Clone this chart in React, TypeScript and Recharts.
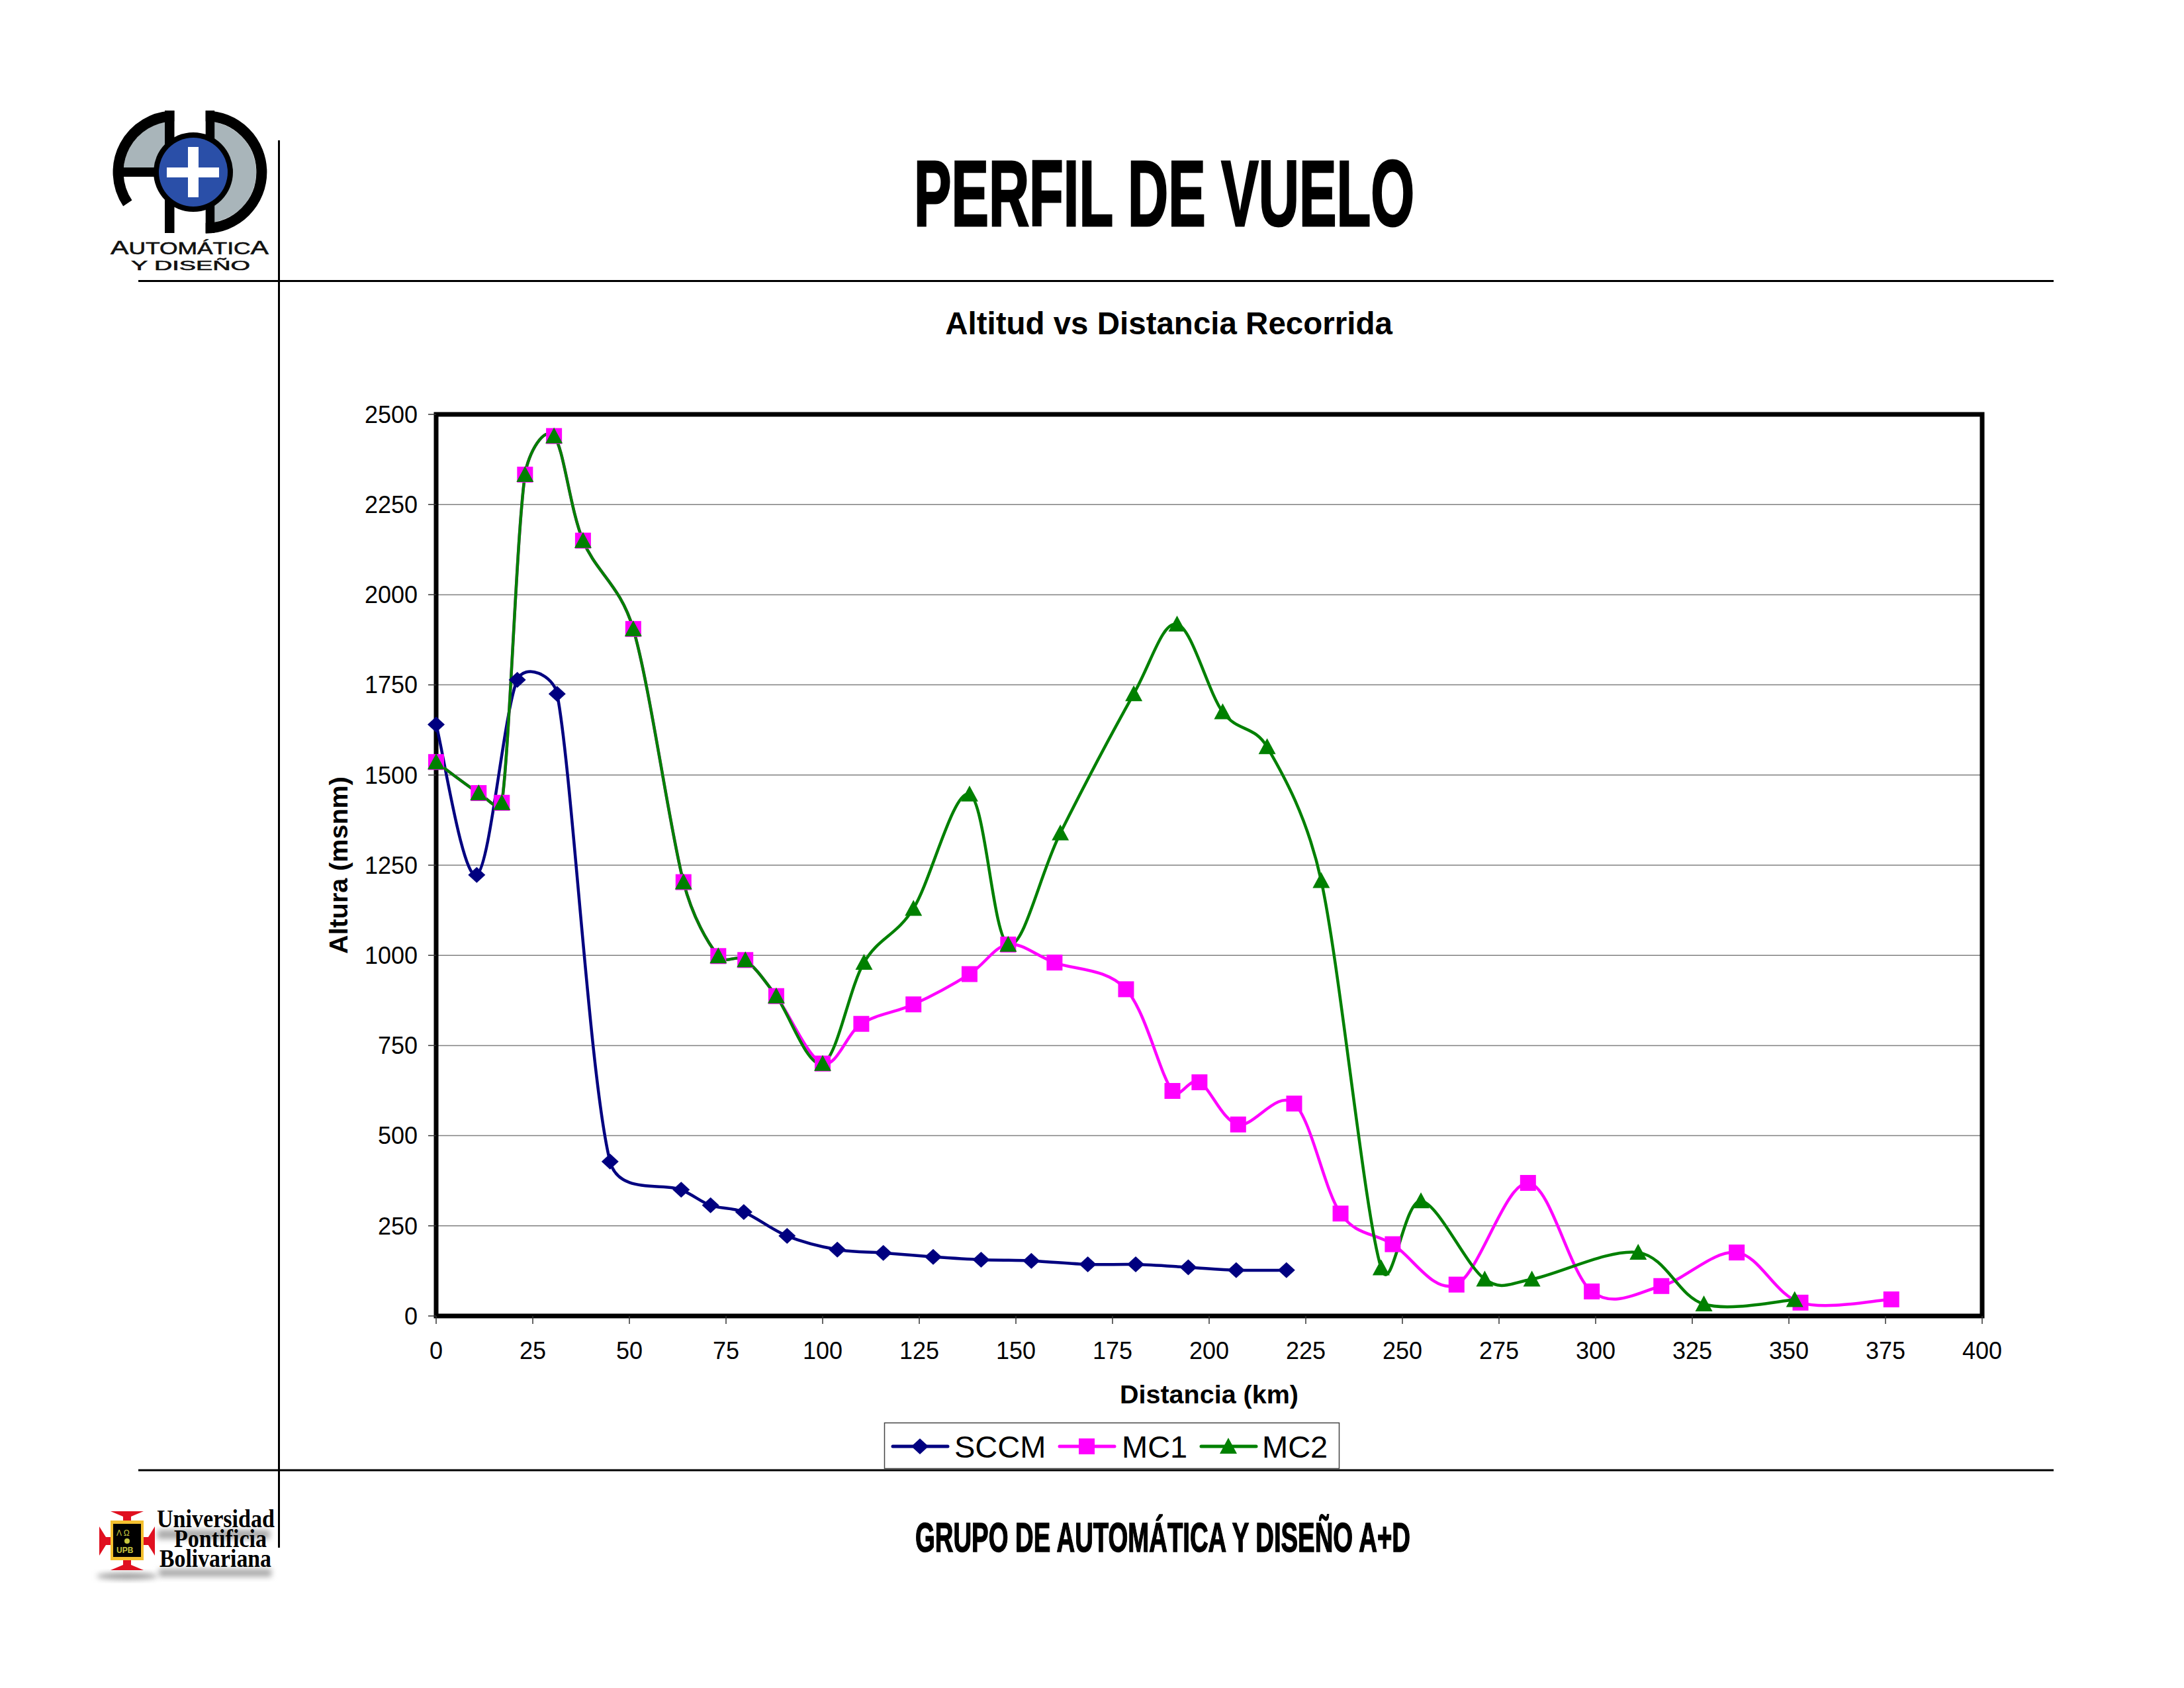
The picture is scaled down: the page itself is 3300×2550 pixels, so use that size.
import { CartesianGrid, Label, Legend, Line, LineChart, ReferenceArea, XAxis, YAxis } from "recharts";

const sccmDist = [0, 10.5, 21, 31.3, 45, 63.4, 71, 79.6, 90.8, 103.8, 115.7, 128.6, 141, 154, 168.6, 181, 194.6, 207, 220];
const sccmAlt = [1640, 1223, 1764, 1725, 428, 350, 307, 288, 222, 184, 175, 164, 156, 153, 143, 143, 135, 127, 127];

const mc1Dist = [0, 11, 17, 23, 30.5, 38, 51, 64, 73, 80, 88, 100, 110, 123.5, 138, 148, 160, 178.5, 190.5, 197.5, 207.5, 222, 234, 247.5, 264, 282.5, 299, 317, 336.5, 353, 376.5];
const mc1Alt = [1536, 1450, 1423, 2333, 2440, 2150, 1905, 1203, 998, 987, 887, 700, 810, 864, 948, 1030, 980, 906, 624, 648, 531, 589, 284, 199, 87, 369, 68, 83, 176, 37, 46];

const mc2Dist = [0, 11, 17, 23, 30.5, 38, 51, 64, 73, 80, 88, 100, 110.7, 123.5, 138, 148, 161.5, 180.5, 191.7, 203.5, 215, 229, 244.5, 254.8, 271.3, 283.5, 311, 328, 351.5];
const mc2Alt = [1536, 1450, 1423, 2333, 2440, 2150, 1905, 1203, 998, 987, 887, 700, 980, 1130, 1447, 1030, 1339, 1725, 1918, 1675, 1578, 1207, 133, 319, 102, 102, 176, 33, 45];

const xTicks = [0, 25, 50, 75, 100, 125, 150, 175, 200, 225, 250, 275, 300, 325, 350, 375, 400];
const yTicks = [0, 250, 500, 750, 1000, 1250, 1500, 1750, 2000, 2250, 2500];

const NAVY = "#000080";
const MAGENTA = "#FF00FF";
const GREEN = "#008000";
const SANS = "'Liberation Sans', Arial, sans-serif";
const NARROW = "'Liberation Sans Narrow', 'Liberation Sans', sans-serif";
const SERIF = "'Liberation Serif', serif";

const zip = (xs: number[], ys: number[]) => xs.map((x, i) => ({ x, y: ys[i] }));

// handle along the neighbours' chord, limited to a share of the segment it belongs to
function handle(from: number[], a: number[], b: number[], seg: number[], sign: number) {
  const dx = (b[0] - a[0]) / 6;
  const dy = (b[1] - a[1]) / 6;
  const len = Math.hypot(dx, dy);
  const max = 0.45 * Math.hypot(seg[0] - from[0], seg[1] - from[1]);
  const k = len > max && len > 0 ? max / len : 1;
  return [from[0] + sign * dx * k, from[1] + sign * dy * k];
}

// Excel style smoothed line, recharts accepts a d3 curve factory as type
function excelCurve(context: any) {
  let pts: number[][] = [];
  return {
    areaStart() {},
    areaEnd() {},
    lineStart() {
      pts = [];
    },
    point(x: number, y: number) {
      pts.push([+x, +y]);
    },
    lineEnd() {
      if (!pts.length) return;
      context.moveTo(pts[0][0], pts[0][1]);
      for (let i = 0; i < pts.length - 1; i++) {
        const p0 = pts[Math.max(i - 1, 0)];
        const p1 = pts[i];
        const p2 = pts[i + 1];
        const p3 = pts[Math.min(i + 2, pts.length - 1)];
        const c1 = handle(p1, p0, p2, p2, 1);
        const c2 = handle(p2, p1, p3, p1, -1);
        context.bezierCurveTo(c1[0], c1[1], c2[0], c2[1], p2[0], p2[1]);
      }
    },
  };
}

function Marker({ kind, cx, cy }: { kind: string; cx: number; cy: number }) {
  if (kind === "SCCM") {
    return <polygon points={`${cx},${cy - 12} ${cx + 13},${cy} ${cx},${cy + 12} ${cx - 13},${cy}`} fill={NAVY} />;
  }
  if (kind === "MC1") {
    return <rect x={cx - 12} y={cy - 12} width={24} height={24} fill={MAGENTA} />;
  }
  return <polygon points={`${cx},${cy - 13} ${cx + 13},${cy + 11} ${cx - 13},${cy + 11}`} fill={GREEN} />;
}

const dotFor = (kind: string) => (props: any) => (
  <Marker key={`${kind}-${props.index}`} kind={kind} cx={props.cx} cy={props.cy} />
);

const legendGeom: Record<string, { left: number; text: number }> = {
  SCCM: { left: 13, text: 106 },
  MC1: { left: 265, text: 359 },
  MC2: { left: 479, text: 571 },
};

function LegendBox({ payload }: any) {
  return (
    <svg width={688} height={70} style={{ display: "block", overflow: "visible" }}>
      <rect x={0.5} y={0.5} width={687} height={69} fill="#fff" stroke="#444" strokeWidth={1.5} />
      {(payload ?? []).map((entry: any) => {
        const g = legendGeom[entry.value];
        return (
          <g key={entry.value}>
            <line x1={g.left} x2={g.left + 83} y1={36} y2={36} stroke={entry.color} strokeWidth={5} strokeLinecap="round" />
            <Marker kind={entry.value} cx={g.left + 41} cy={36} />
            <text x={g.text} y={53} fontFamily={SANS} fontSize={47} fill="#000">
              {entry.value}
            </text>
          </g>
        );
      })}
    </svg>
  );
}

function Frame() {
  return (
    <svg width={3300} height={2550} style={{ position: "absolute", left: 0, top: 0 }}>
      <defs>
        <filter id="soft" x="-10%" y="-60%" width="120%" height="220%">
          <feGaussianBlur stdDeviation="4" />
        </filter>
      </defs>

      {/* page rules */}
      <line x1={209} x2={3103} y1={424.5} y2={424.5} stroke="#000" strokeWidth={3} />
      <line x1={209} x2={3103} y1={2221} y2={2221} stroke="#000" strokeWidth={3} />
      <line x1={421.5} x2={421.5} y1={212} y2={2338} stroke="#000" strokeWidth={3} />

      {/* A+D logo */}
      <path d="M249,184.6 A76.7,76.7 0 0 0 186.9,253 L249,253 Z" fill="#A9B5BA" />
      <path d="M324,184.5 A76.7,76.7 0 0 1 324,335.5 Z" fill="#A9B5BA" />
      <path d="M263.3,175.3 A84.7,84.7 0 0 0 192.8,307" fill="none" stroke="#000" strokeWidth={16} />
      <path d="M310.7,175.3 A84.7,84.7 0 0 1 310.7,344.7" fill="none" stroke="#000" strokeWidth={16} />
      <rect x={186} y={253} width={76} height={14} fill="#000" />
      <rect x={249} y={167} width={14.5} height={185} fill="#000" />
      <rect x={310.7} y={167} width={13.5} height={185} fill="#000" />
      <circle cx={292} cy={260} r={60} fill="#000" />
      <circle cx={292} cy={260} r={52} fill="#2A4FA8" />
      <rect x={284} y={222} width={16} height={76} fill="#fff" />
      <rect x={252} y={253} width={79} height={15} fill="#fff" />
      <text x={167} y={384} textLength={239} lengthAdjust="spacingAndGlyphs" fontFamily={SANS} fontSize={25} stroke="#111" strokeWidth={0.6} fill="#111">
        <tspan fontSize={29}>A</tspan>UTOMÁTIC<tspan fontSize={29}>A</tspan>
      </text>
      <text x={198} y={408} textLength={180} lengthAdjust="spacingAndGlyphs" fontFamily={SANS} fontSize={20} stroke="#111" strokeWidth={0.6} fill="#111">
        Y DISEÑO
      </text>

      {/* university logo */}
      <ellipse cx={192} cy={2381} rx={46} ry={5} fill="#999" filter="url(#soft)" />
      <rect x={238} y={2311} width={170} height={14} fill="#aaa" filter="url(#soft)" />
      <rect x={240} y={2370} width={170} height={12} fill="#aaa" filter="url(#soft)" />
      <path d="M167,2283 L217,2283 L198,2291 L198,2300 L186,2300 L186,2291 Z" fill="#E01020" />
      <path d="M167,2372 L217,2372 L198,2364 L198,2355 L186,2355 L186,2364 Z" fill="#E01020" />
      <path d="M150,2306 L150,2350 L160,2334 L168,2334 L168,2322 L160,2322 Z" fill="#E01020" />
      <path d="M234,2306 L234,2350 L224,2334 L216,2334 L216,2322 L224,2322 Z" fill="#E01020" />
      <rect x={167} y={2297} width={50} height={60} fill="#F4C030" />
      <rect x={171} y={2302} width={42} height={50} fill="#000" />
      <text x={176} y={2320} fontFamily={SANS} fontSize={12} fill="#C8C840">
        Λ Ω
      </text>
      <circle cx={192} cy={2328} r={4} fill="#C8C840" />
      <text x={176} y={2346} fontFamily={SANS} fontSize={12} fontWeight={700} fill="#C8C840">
        UPB
      </text>
      <g fontFamily={SERIF} fontWeight={700} fontSize={37} fill="#000">
        <text x={237} y={2307} textLength={178} lengthAdjust="spacingAndGlyphs">Universidad</text>
        <text x={263} y={2337} textLength={140} lengthAdjust="spacingAndGlyphs">Pontificia</text>
        <text x={241} y={2367} textLength={169} lengthAdjust="spacingAndGlyphs">Bolivariana</text>
      </g>

      {/* headings */}
      <text x={1381} y={341} textLength={756} lengthAdjust="spacingAndGlyphs" fontFamily={NARROW} fontWeight={700} fontSize={141} stroke="#000" strokeWidth={3}>
        PERFIL DE VUELO
      </text>
      <text x={1383} y={2344} textLength={748} lengthAdjust="spacingAndGlyphs" fontFamily={NARROW} fontWeight={700} fontSize={63} stroke="#000" strokeWidth={1.5}>
        GRUPO DE AUTOMÁTICA Y DISEÑO A+D
      </text>
      <text x={1766} y={505} textAnchor="middle" fontFamily={SANS} fontWeight={700} fontSize={47.5}>
        Altitud vs Distancia Recorrida
      </text>
    </svg>
  );
}

export default function App() {
  const tick = { fontFamily: SANS, fontSize: 36, fill: "#000" };
  return (
    <div style={{ position: "absolute", left: 0, top: 0, width: 3300, height: 2550, background: "#fff" }}>
      <Frame />
      <div style={{ position: "absolute", left: 0, top: 0 }}>
        <LineChart width={3300} height={2550} margin={{ left: 559, right: 305, top: 626, bottom: 462 }}>
          <CartesianGrid vertical={false} stroke="#808080" strokeWidth={1.5} />
          <XAxis
            dataKey="x"
            type="number"
            domain={[0, 400]}
            ticks={xTicks}
            interval={0}
            height={100}
            tick={tick}
            tickSize={12}
            tickMargin={27}
            tickLine={{ stroke: "#333", strokeWidth: 1.5 }}
            axisLine={false}
          >
            <Label value="Distancia (km)" position="bottom" offset={4} style={{ fontFamily: SANS, fontSize: 39.5, fontWeight: 700, fill: "#000" }} />
          </XAxis>
          <YAxis
            type="number"
            domain={[0, 2500]}
            ticks={yTicks}
            interval={0}
            width={100}
            tick={tick}
            tickSize={12}
            tickMargin={16}
            tickLine={{ stroke: "#333", strokeWidth: 1.5 }}
            axisLine={false}
          >
            <Label value="Altura (msnm)" angle={-90} position="left" offset={48} style={{ fontFamily: SANS, fontSize: 39.5, fontWeight: 700, fill: "#000", textAnchor: "middle" }} />
          </YAxis>
          <ReferenceArea x1={0} x2={400} y1={0} y2={2500} fill="none" stroke="#000" strokeWidth={7} />
          <Line data={zip(sccmDist, sccmAlt)} dataKey="y" name="SCCM" type={excelCurve as any} stroke={NAVY} strokeWidth={4.5} dot={dotFor("SCCM")} isAnimationActive={false} />
          <Line data={zip(mc1Dist, mc1Alt)} dataKey="y" name="MC1" type={excelCurve as any} stroke={MAGENTA} strokeWidth={4.5} dot={dotFor("MC1")} isAnimationActive={false} />
          <Line data={zip(mc2Dist, mc2Alt)} dataKey="y" name="MC2" type={excelCurve as any} stroke={GREEN} strokeWidth={4.5} dot={dotFor("MC2")} isAnimationActive={false} />
          <Legend
            layout="horizontal"
            verticalAlign="middle"
            itemSorter={null as any}
            content={<LegendBox />}
            wrapperStyle={{ left: 1336, top: 2149, width: 688, height: 70 }}
          />
        </LineChart>
      </div>
    </div>
  );
}
